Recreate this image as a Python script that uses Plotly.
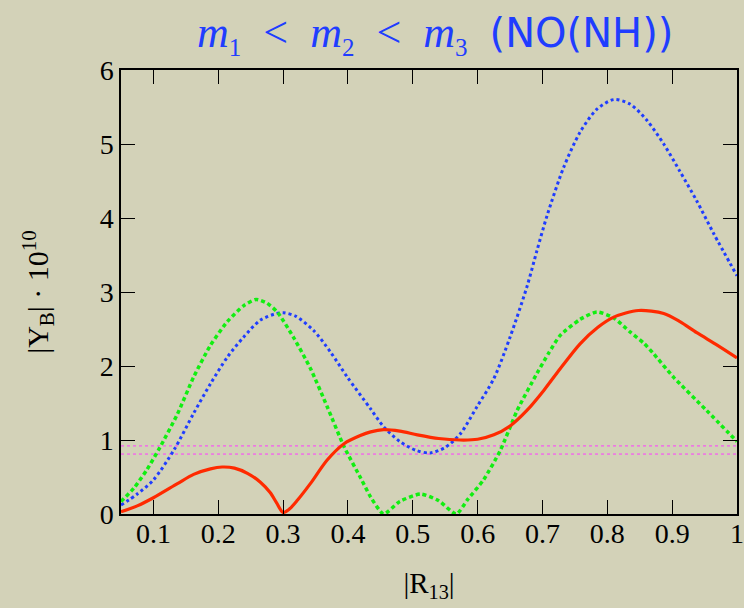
import plotly.graph_objects as go

# Blue dotted curve
blue_x = [0.05, 0.075, 0.1, 0.132, 0.162, 0.188, 0.214, 0.239, 0.265, 0.29, 0.301, 0.32, 0.347, 0.373,
          0.399, 0.435, 0.455, 0.48, 0.505, 0.527, 0.55, 0.573, 0.599, 0.625, 0.65, 0.676, 0.6915, 0.707,
          0.7325, 0.758, 0.784, 0.81, 0.835, 0.861, 0.887, 0.912, 0.938, 0.964, 1.0]
blue_y = [0.12, 0.27, 0.46, 0.87, 1.36, 1.76, 2.12, 2.39, 2.62, 2.71, 2.72, 2.67, 2.48, 2.19,
          1.85, 1.42, 1.18, 0.98, 0.86, 0.825, 0.9, 1.08, 1.45, 1.83, 2.39, 3.07, 3.56, 4.03,
          4.68, 5.16, 5.47, 5.60, 5.54, 5.32, 5.00, 4.63, 4.23, 3.79, 3.22]

# Green dashed curve
green_x = [0.05, 0.07, 0.09, 0.11, 0.137, 0.162, 0.188, 0.214, 0.24, 0.258, 0.275, 0.291, 0.3165,
           0.342, 0.368, 0.394, 0.42, 0.435, 0.455, 0.48, 0.512, 0.54, 0.567, 0.585, 0.609, 0.635,
           0.661, 0.6915, 0.71, 0.727, 0.758, 0.784, 0.81, 0.835, 0.856, 0.871, 0.902, 0.953, 1.0]
green_y = [0.17, 0.35, 0.6, 0.9, 1.35, 1.85, 2.28, 2.6, 2.82, 2.9, 2.85, 2.73, 2.38,
           1.97, 1.45, 0.91, 0.48, 0.23, 0.0, 0.17, 0.27, 0.18, 0.0, 0.2, 0.46, 0.86,
           1.40, 1.90, 2.18, 2.41, 2.63, 2.73, 2.65, 2.46, 2.31, 2.17, 1.85, 1.40, 0.98]

# Red solid curve
red_x = [0.05, 0.075, 0.1, 0.137, 0.162, 0.188, 0.206, 0.225, 0.245, 0.265, 0.28, 0.29, 0.3, 0.31,
         0.322, 0.342, 0.368, 0.394, 0.419, 0.435, 0.455, 0.48, 0.507, 0.54, 0.573, 0.6, 0.625,
         0.65, 0.676, 0.702, 0.727, 0.758, 0.785, 0.81, 0.848, 0.887, 0.912, 0.938, 0.97, 1.0]
red_y = [0.03, 0.11, 0.22, 0.41, 0.536, 0.61, 0.635, 0.62, 0.55, 0.43, 0.29, 0.15, 0.02, 0.07,
         0.185, 0.41, 0.73, 0.95, 1.06, 1.11, 1.14, 1.12, 1.07, 1.02, 1.0, 1.01, 1.07,
         1.19, 1.40, 1.67, 1.96, 2.30, 2.52, 2.66, 2.75, 2.71, 2.60, 2.45, 2.28, 2.11]

# Horizontal reference levels (magenta dotted)
ref_levels = [0.92, 0.81]
ref_x = [0.05, 1.0]

x_ticks = [0.1, 0.2, 0.3, 0.4, 0.5, 0.6, 0.7, 0.8, 0.9, 1.0]
x_tick_labels = ["0.1", "0.2", "0.3", "0.4", "0.5", "0.6", "0.7", "0.8", "0.9", "1"]
y_ticks = [0, 1, 2, 3, 4, 5, 6]
y_tick_labels = ["0", "1", "2", "3", "4", "5", "6"]

fig = go.Figure()

for lv in ref_levels:
    fig.add_trace(go.Scatter(x=ref_x, y=[lv, lv], mode="lines",
                             line=dict(color="#ff3cff", width=1, dash="dot"),
                             showlegend=False, hoverinfo="skip"))

fig.add_trace(go.Scatter(x=blue_x, y=blue_y, mode="lines",
                         line=dict(color="#1f3dff", width=3, dash="dot", shape="spline", smoothing=0.8),
                         showlegend=False))
fig.add_trace(go.Scatter(x=green_x, y=green_y, mode="lines",
                         line=dict(color="#11ee11", width=3.5, dash="4px,3px", shape="spline", smoothing=0.6),
                         showlegend=False))
fig.add_trace(go.Scatter(x=red_x, y=red_y, mode="lines",
                         line=dict(color="#ff2a00", width=3.2, shape="spline", smoothing=0.8),
                         showlegend=False))

serif = "Liberation Serif"
sub = "<sub><span style='font-size:25px'>{}</span></sub>"
title_text = ("<i>m</i>" + sub.format("1") + "&nbsp; &lt; &nbsp;<i>m</i>" + sub.format("2")
              + "&nbsp; &lt; &nbsp;<i>m</i>" + sub.format("3")
              + "&nbsp; <span style='font-family:DejaVu Sans;font-size:40px'>(NO(NH))</span>")

fig.update_layout(
    width=744, height=608,
    margin=dict(l=121, r=7, t=70, b=94, autoexpand=False),
    paper_bgcolor="#d3d2b8",
    plot_bgcolor="#d3d2b8",
    title=dict(
        text=title_text,
        font=dict(family=serif, size=44, color="#1f3dff"),
        x=0.585, xanchor="center", y=0.948, yanchor="middle",
    ),
    xaxis=dict(
        range=[0.05, 1.0], tickvals=x_ticks, ticktext=x_tick_labels,
        ticks="inside", ticklen=14, tickwidth=1.2, tickcolor="black",
        showline=True, linecolor="black", linewidth=1.5, mirror="ticks",
        showgrid=False, zeroline=False, ticklabelstandoff=-6,
        tickfont=dict(family=serif, size=28, color="black"),
        title=dict(text="|R<sub>13</sub>|", font=dict(family=serif, size=29, color="black"),
                   standoff=24),
    ),
    yaxis=dict(
        range=[0, 6], tickvals=y_ticks, ticktext=y_tick_labels,
        ticks="inside", ticklen=14, tickwidth=1.2, tickcolor="black",
        showline=True, linecolor="black", linewidth=1.5, mirror="ticks",
        showgrid=False, zeroline=False,
        tickfont=dict(family=serif, size=28, color="black"),
        title=dict(text="|Y<sub>B</sub>| · 10<sup>10</sup>",
                   font=dict(family=serif, size=30, color="black"), standoff=42),
    ),
)

fig.write_html("out.html", config={"displayModeBar": False},
               post_script="document.body.style.margin='0';document.body.style.background='#d3d2b8';")
